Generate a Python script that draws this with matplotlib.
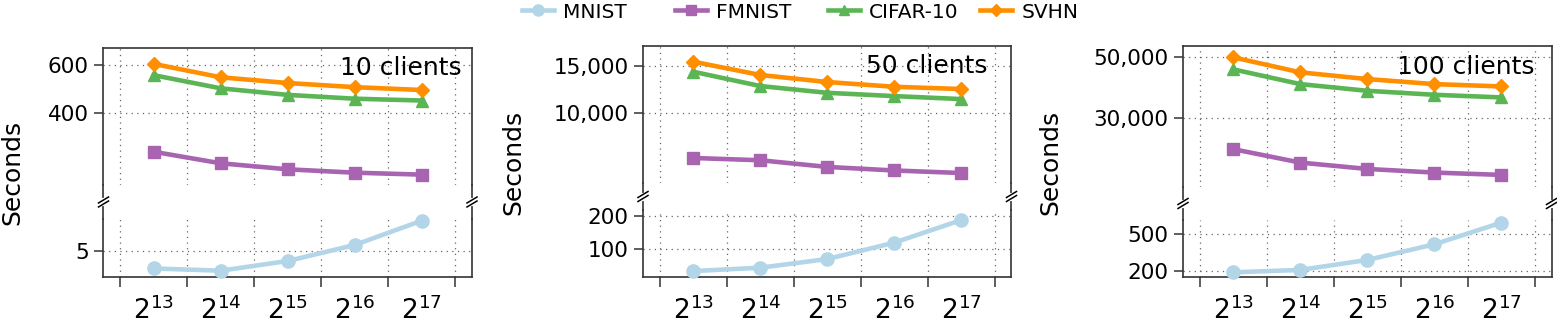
import matplotlib.pyplot as plt
import numpy as np
from matplotlib.lines import Line2D
from matplotlib.ticker import NullLocator

# x axis: block size exponents (2^13 ... 2^17)
exps = [13, 14, 15, 16, 17]
panels = ['10 clients', '50 clients', '100 clients']

# seconds, one list per panel (10, 50, 100 clients)
mnist = [[3.37, 3.21, 3.98, 5.68, 9.74],
         [63.6, 68.2, 81.7, 115, 184],
         [196, 208, 266, 392, 670]]
fmnist = [[286, 259, 246, 239, 235],
          [6790, 6660, 6290, 6100, 5970],
          [23270, 20820, 19750, 19170, 18800]]
cifar = [[552, 493, 466, 451, 444],
         [14220, 12580, 11870, 11540, 11250],
         [45040, 39860, 37710, 36490, 35700]]
svhn = [[608, 542, 516, 498, 486],
        [15500, 13830, 13020, 12500, 12260],
        [49750, 43930, 41560, 39860, 39100]]

top_ticks = [[400, 600], [10000, 15000], [30000, 50000]]
bot_ticks = [[5], [100, 200], [200, 500]]

# styles
styles = {
    'MNIST': dict(color='#b3d5e8', marker='o', ms=9.5),
    'FMNIST': dict(color='#a864b0', marker='s', ms=8.5),
    'CIFAR-10': dict(color='#5cb554', marker='^', ms=8.5),
    'SVHN': dict(color='#ff8f00', marker='D', ms=7.5),
}
LW = 3.3
SPINE = '#333333'

W, H = 1557, 322
fig = plt.figure(figsize=(W / 100, H / 100), dpi=100)


def fx(px):
    return px / W


def fy(py):
    return 1 - py / H


# layout in pixels
lefts = [103.5, 643, 1183]
width = 368.5
top_T = [48, 46, 46]
top_B = [185, 183, 187]
bot_T = [219, 210, 220]
bot_B = 277
top_lims = [(215, 697), (5480, 17730), (17010, 54640)]
bot_lims = [(2.79, 10.1), (56.2, 227), (174.5, 716)]
ylab_x = [12, 513, 1050]
ylab_y = [172, 162, 162]
txt_x = [0.973, 0.936, 0.955]

major_x = [12.5, 13.5, 14.5, 15.5, 16.5, 17.5]


def style_axis(ax):
    ax.set_yscale('log')
    ax.yaxis.set_minor_locator(NullLocator())
    ax.set_xlim(12.25, 17.75)
    ax.set_xticks(major_x)
    ax.grid(True, which='major', color='#666666', linestyle=(0, (1, 3.5)), linewidth=0.9)
    ax.tick_params(axis='y', direction='out', length=6.5, width=1.1, color=SPINE,
                   labelsize=15.5, pad=4)
    for s in ax.spines.values():
        s.set_color(SPINE)
        s.set_linewidth(1.2)


for i in range(3):
    L = lefts[i]
    axt = fig.add_axes([fx(L), fy(top_B[i]), fx(width), (top_B[i] - top_T[i]) / H])
    axb = fig.add_axes([fx(L), fy(bot_B), fx(width), (bot_B - bot_T[i]) / H])

    for ax in (axt, axb):
        style_axis(ax)

    # top part
    for name, vals in (('FMNIST', fmnist), ('CIFAR-10', cifar), ('SVHN', svhn)):
        st = styles[name]
        axt.plot(exps, vals[i], color=st['color'], marker=st['marker'], ms=st['ms'],
                 lw=LW, clip_on=False, zorder=3)
    axt.set_ylim(*top_lims[i])
    axt.set_yticks(top_ticks[i])
    axt.set_yticklabels([f'{v:,}' for v in top_ticks[i]])
    axt.tick_params(axis='x', bottom=False, labelbottom=False)
    axt.spines['bottom'].set_visible(False)
    axt.text(txt_x[i], 0.8, panels[i], transform=axt.transAxes, ha='right',
             va='baseline', fontsize=18)

    # bottom part
    st = styles['MNIST']
    axb.plot(exps, mnist[i], color=st['color'], marker=st['marker'], ms=st['ms'],
             lw=LW, clip_on=False, zorder=3)
    axb.set_ylim(*bot_lims[i])
    axb.set_yticks(bot_ticks[i])
    axb.set_yticklabels([f'{v:,}' for v in bot_ticks[i]])
    axb.spines['top'].set_visible(False)
    axb.set_xticklabels([])
    axb.tick_params(axis='x', which='major', direction='out', length=7, width=1.1,
                    color=SPINE)
    axb.set_xticks(exps, minor=True)
    axb.set_xticklabels([f'$2^{{{e}}}$' for e in exps], minor=True)
    axb.tick_params(axis='x', which='minor', length=0, pad=14, labelsize=19)

    # continuous side spines through the gap + break marks
    mid = (top_B[i] + bot_T[i]) / 2
    for xs in (L, L + width):
        fig.add_artist(Line2D([fx(xs), fx(xs)], [fy(top_B[i]), fy(bot_T[i])],
                              color=SPINE, lw=1.2, transform=fig.transFigure))
        fig.add_artist(Line2D([fx(xs), fx(xs)], [fy(mid - 2), fy(mid + 2)],
                              color='white', lw=3, transform=fig.transFigure))
        for d in (-2, 2):
            fig.add_artist(Line2D([fx(xs - 5), fx(xs + 5)], [fy(mid + d + 3), fy(mid + d - 3)],
                                  color='black', lw=1.1, transform=fig.transFigure))

    fig.text(fx(ylab_x[i]), fy(ylab_y[i]), 'Seconds', rotation=90, ha='center',
             va='center', fontsize=18)

# legend: one entry per dataset, evenly spaced along the top
leg_x = [522, 675, 828, 980]
for name, xpos in zip(['MNIST', 'FMNIST', 'CIFAR-10', 'SVHN'], leg_x):
    st = styles[name]
    h = Line2D([], [], color=st['color'], marker=st['marker'], ms=st['ms'] - 1.5, lw=LW)
    fig.legend([h], [name], loc='center left', bbox_to_anchor=(fx(xpos), fy(12)),
               frameon=False, fontsize=14.5, borderpad=0, borderaxespad=0,
               handlelength=1.6, handletextpad=0.45)

fig.savefig('out.png', dpi=100)
